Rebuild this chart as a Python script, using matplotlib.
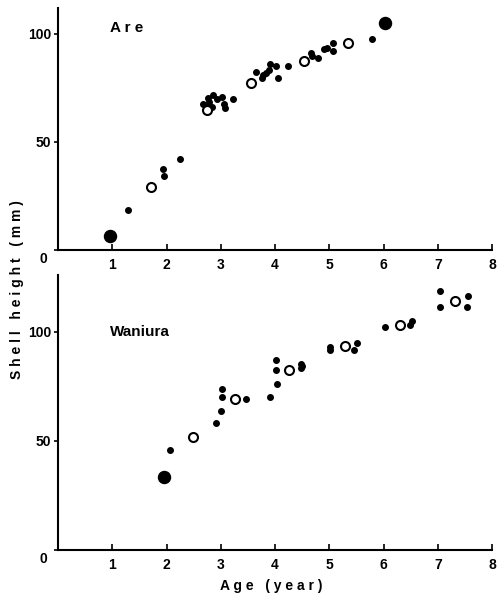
import matplotlib.pyplot as plt
import matplotlib.transforms as mtransforms

# Are: small filled dots, open circles (means), large filled dots
are_small_x = [1.29, 1.94, 1.95, 2.25, 2.68, 2.77, 2.79, 2.83, 2.86, 2.93, 3.02, 3.05, 3.08, 3.23,
               3.65, 3.75, 3.78, 3.83, 3.88, 3.91, 4.02, 4.05, 4.24,
               4.66, 4.68, 4.79, 4.90, 4.96, 5.07, 5.07, 5.79]
are_small_y = [18.4, 37.4, 34.0, 42.0, 67.7, 70.4, 68.5, 66.2, 71.6, 70.0, 70.8, 67.7, 65.4, 70.0,
               82.3, 79.3, 80.8, 81.6, 83.0, 86.2, 85.1, 79.6, 85.1,
               91.2, 89.6, 88.6, 93.0, 93.5, 95.8, 92.0, 97.4]
are_open_x = [1.71, 2.74, 3.56, 4.53, 5.34]
are_open_y = [29.2, 64.7, 77.3, 87.4, 95.8]
are_big_x = [0.96, 6.03]
are_big_y = [6.5, 104.8]

# Waniura
wan_small_x = [2.07, 2.91, 3.01, 3.02, 3.02, 3.47, 3.91, 4.03, 4.02, 4.02, 4.47, 4.48, 4.50,
               5.02, 5.02, 5.46, 5.51, 6.03, 6.49, 6.52, 7.04, 7.04, 7.55, 7.53]
wan_small_y = [46.0, 58.0, 63.7, 70.2, 73.6, 69.0, 70.2, 75.9, 82.4, 87.1, 83.3, 85.1, 84.2,
               92.8, 91.4, 91.6, 94.8, 102.0, 103.0, 104.8, 118.6, 111.2, 116.3, 111.2]
wan_open_x = [2.48, 3.27, 4.25, 5.29, 6.31, 7.32]
wan_open_y = [51.7, 69.0, 82.5, 93.6, 103.0, 114.0]
wan_big_x = [1.96]
wan_big_y = [33.3]

x_ticks = [1, 2, 3, 4, 5, 6, 7, 8]
y_ticks = [0, 50, 100]

plt.rcParams['font.family'] = ['Liberation Sans', 'DejaVu Sans']
plt.rcParams['font.weight'] = 'bold'

fig = plt.figure(figsize=(4.97, 5.99), dpi=100)
ax1 = fig.add_axes([0.117, 0.583, 0.873, 0.404])
ax2 = fig.add_axes([0.117, 0.082, 0.873, 0.459])


def draw_panel(ax, sx, sy, ox, oy, bx, by, ymax, name, name_y):
  ax.scatter(sx, sy, s=16, color='black', zorder=3)
  ax.scatter(ox, oy, s=42, facecolor='white', edgecolor='black', linewidth=1.5, zorder=4)
  ax.scatter(bx, by, s=75, color='black', zorder=3)
  ax.set_xlim(0, 8)
  ax.set_ylim(0, ymax)
  ax.spines['top'].set_visible(False)
  ax.spines['right'].set_visible(False)
  ax.spines['left'].set_linewidth(1.5)
  ax.spines['bottom'].set_linewidth(1.5)
  ax.set_xticks(x_ticks)
  ax.set_yticks(y_ticks)
  ax.tick_params(axis='x', direction='in', length=4, width=1.2, labelsize=10, pad=6)
  ax.tick_params(axis='y', direction='out', length=3, width=1.2, labelsize=10, pad=2)
  # the zero label sits below the corner in the original
  lab0 = ax.get_yticklabels()[0]
  lab0.set_transform(lab0.get_transform() +
                     mtransforms.ScaledTranslation(-0.04, -0.08, fig.dpi_scale_trans))
  ax.text(0.95, name_y, name, fontsize=11, fontweight='bold')


draw_panel(ax1, are_small_x, are_small_y, are_open_x, are_open_y, are_big_x, are_big_y,
           112, 'A r e', 101)
draw_panel(ax2, wan_small_x, wan_small_y, wan_open_x, wan_open_y, wan_big_x, wan_big_y,
           126, 'Waniura', 98)

fig.text(0.034, 0.516, 'S h e l l   h e i g h t   ( m m )', rotation=90,
         ha='center', va='center', fontsize=10, fontweight='bold')
fig.text(0.545, 0.022, 'A g e   ( y e a r )', ha='center', va='center',
         fontsize=10, fontweight='bold')

fig.savefig('out.png', dpi=100)
